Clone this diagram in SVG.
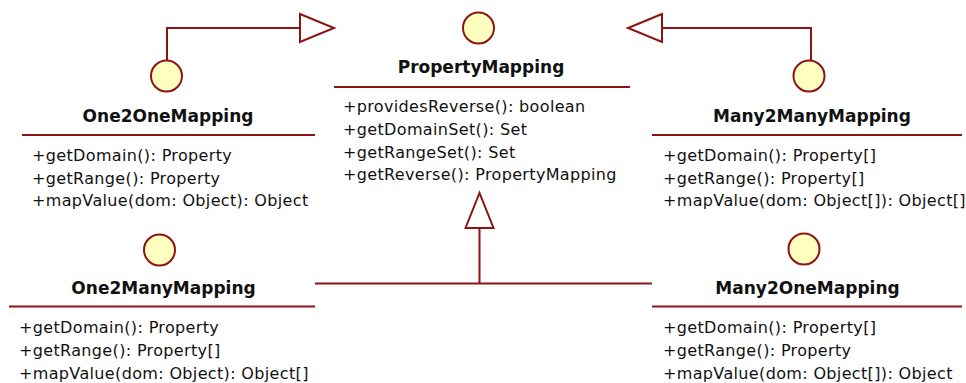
<svg xmlns="http://www.w3.org/2000/svg" width="966" height="383" viewBox="0 0 966 383">
  <style>
    .line { stroke: #8b1414; stroke-width: 2; fill: none; }
    .head { stroke: #8b1414; stroke-width: 2; fill: #ffffff; stroke-linejoin: miter; }
    .iface { stroke: #8b1414; stroke-width: 2; fill: #ffffc0; }
    .title { font-family: "DejaVu Sans", Verdana, sans-serif; font-weight: bold; font-size: 17px; fill: #111; text-anchor: middle; }
    .op { font-family: "DejaVu Sans", Verdana, sans-serif; font-size: 16px; letter-spacing: 0.35px; fill: #111; }
  </style>
  <rect width="966" height="383" fill="#ffffff"/>

  <!-- generalization connectors -->
  <g id="connectors">
    <path class="line" d="M167 60 V28 H300"/>
    <polygon class="head" points="300,14 334,28 300,42"/>
    <path class="line" d="M811 60 V28 H662"/>
    <polygon class="head" points="662,14 628,28 662,42"/>
    <path class="line" d="M315 283.5 H652 M479.5 283.5 V228"/>
    <polygon class="head" points="465.5,228 479.5,193 493.5,228"/>
  </g>

  <g id="PropertyMapping">
    <circle class="iface" cx="478.5" cy="28" r="15.5"/>
    <text class="title" x="481" y="73">PropertyMapping</text>
    <line class="line" x1="334" y1="87" x2="630" y2="87"/>
    <text class="op" x="343" y="112">+providesReverse(): boolean</text>
    <text class="op" x="343" y="135">+getDomainSet(): Set</text>
    <text class="op" x="343" y="157.5">+getRangeSet(): Set</text>
    <text class="op" x="343" y="180">+getReverse(): PropertyMapping</text>
  </g>

  <g id="One2OneMapping">
    <circle class="iface" cx="166.5" cy="76" r="15.5"/>
    <text class="title" x="168" y="122">One2OneMapping</text>
    <line class="line" x1="22" y1="135" x2="315" y2="135"/>
    <text class="op" x="32" y="161">+getDomain(): Property</text>
    <text class="op" x="32" y="184">+getRange(): Property</text>
    <text class="op" x="32" y="206">+mapValue(dom: Object): Object</text>
  </g>

  <g id="Many2ManyMapping">
    <circle class="iface" cx="809" cy="76" r="15.5"/>
    <text class="title" x="812" y="122">Many2ManyMapping</text>
    <line class="line" x1="652" y1="135" x2="962" y2="135"/>
    <text class="op" x="663" y="161">+getDomain(): Property[]</text>
    <text class="op" x="663" y="184">+getRange(): Property[]</text>
    <text class="op" x="663" y="206">+mapValue(dom: Object[]): Object[]</text>
  </g>

  <g id="One2ManyMapping">
    <circle class="iface" cx="159.5" cy="250" r="15.5"/>
    <text class="title" x="163.5" y="294">One2ManyMapping</text>
    <line class="line" x1="9" y1="306.5" x2="315" y2="306.5"/>
    <text class="op" x="19" y="333">+getDomain(): Property</text>
    <text class="op" x="19" y="356">+getRange(): Property[]</text>
    <text class="op" x="19" y="379">+mapValue(dom: Object): Object[]</text>
  </g>

  <g id="Many2OneMapping">
    <circle class="iface" cx="804" cy="249" r="15.5"/>
    <text class="title" x="807.5" y="294">Many2OneMapping</text>
    <line class="line" x1="652" y1="306.5" x2="962" y2="306.5"/>
    <text class="op" x="663" y="333">+getDomain(): Property[]</text>
    <text class="op" x="663" y="356">+getRange(): Property</text>
    <text class="op" x="663" y="379">+mapValue(dom: Object[]): Object</text>
  </g>
</svg>
